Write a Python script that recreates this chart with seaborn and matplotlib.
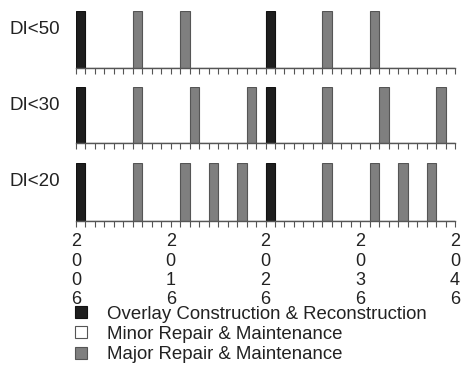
import numpy as np
import pandas as pd
import matplotlib
matplotlib.use("Agg")
import matplotlib.pyplot as plt
import seaborn as sns
from matplotlib.lines import Line2D

# scenarios, top to bottom
scenarios = ["DI<50", "DI<30", "DI<20"]

# treatment years per scenario
overlay_years = {
    "DI<50": [2006, 2026],
    "DI<30": [2006, 2026],
    "DI<20": [2006, 2026],
}
minor_years = {
    "DI<50": [],
    "DI<30": [],
    "DI<20": [],
}
major_years = {
    "DI<50": [2012, 2017, 2032, 2037],
    "DI<30": [2012, 2018, 2024, 2032, 2038, 2044],
    "DI<20": [2012, 2017, 2020, 2023, 2032, 2037, 2040, 2043],
}

treatments = ["Overlay Construction & Reconstruction",
              "Minor Repair & Maintenance",
              "Major Repair & Maintenance"]
fill_colors = ["#1e1e1e", "#ffffff", "#7f7f7f"]
edge_colors = ["#111111", "#555555", "#555555"]

start_year, end_year = 2006, 2046
label_years = [2006, 2016, 2026, 2036, 2046]

sns.set_theme(style="white")
plt.rcParams["font.family"] = ["Liberation Sans", "DejaVu Sans"]

fig = plt.figure(figsize=(4.62, 3.91), dpi=100)

# axes rows in figure fractions (left, bottom, width, height)
rows = [(0.1645, 0.826, 0.8205, 0.146),
        (0.1645, 0.634, 0.8205, 0.143),
        (0.1645, 0.435, 0.8205, 0.148)]

bins = np.arange(start_year, end_year + 1)

for i, (name, box) in enumerate(zip(scenarios, rows)):
    ax = fig.add_axes(box)
    groups = [overlay_years[name], minor_years[name], major_years[name]]
    for years, fc, ec in zip(groups, fill_colors, edge_colors):
        if not years:
            continue
        df = pd.DataFrame({"year": years})
        sns.histplot(data=df, x="year", bins=bins, ax=ax, color=fc,
                     edgecolor=ec, linewidth=0.8, alpha=1, shrink=1)
    ax.set_xlim(start_year, end_year)
    ax.set_ylim(0, 1)
    ax.set_xlabel("")
    ax.set_ylabel("")
    ax.set_yticks([])
    for s in ["top", "left", "right"]:
        ax.spines[s].set_visible(False)
    ax.spines["bottom"].set_color("#555555")
    ax.spines["bottom"].set_linewidth(1.0)
    ax.set_xticks(bins)
    ax.tick_params(axis="x", bottom=True, direction="out", length=4,
                   width=0.8, color="#555555", pad=5, labelsize=13,
                   labelcolor="#222222")
    if i == len(scenarios) - 1:
        labels = ["\n".join(str(y)) if y in label_years else "" for y in bins]
        ax.set_xticklabels(labels, linespacing=1.17)
    else:
        ax.set_xticklabels([])
    ax.text(-0.042, 0.68, name, transform=ax.transAxes, ha="right",
            va="center", fontsize=13.5, color="#222222")

handles = [Line2D([], [], marker="s", linestyle="none", markersize=8,
                  markerfacecolor=fc, markeredgecolor=ec, markeredgewidth=0.8)
           for fc, ec in zip(fill_colors, edge_colors)]
leg = fig.legend(handles, treatments, loc="upper left",
                 bbox_to_anchor=(0.155, 0.218), frameon=False,
                 fontsize=13.4, handlelength=1.0, handletextpad=0.9,
                 labelspacing=0.17, borderaxespad=0, borderpad=0)
for t in leg.get_texts():
    t.set_color("#222222")

fig.savefig("out.png", dpi=100)
